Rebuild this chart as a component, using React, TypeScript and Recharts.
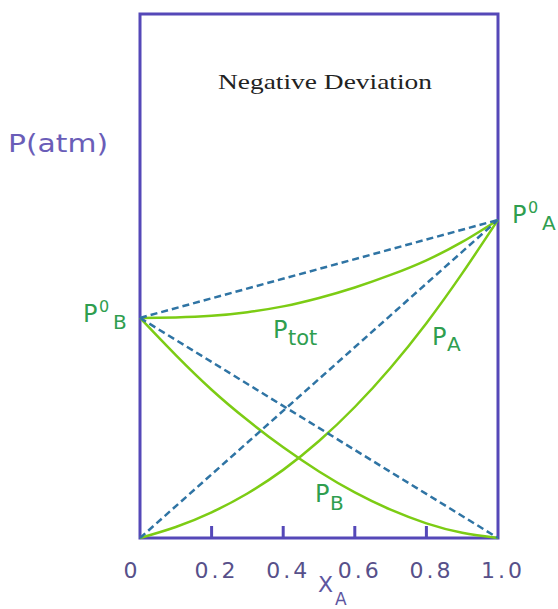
import { LineChart, Line, XAxis, YAxis, ReferenceArea } from "recharts";

// mole fraction of A
const xA = [0, 0.1, 0.2, 0.3, 0.4, 0.5, 0.6, 0.7, 0.8, 0.9, 1.0];
// partial and total vapour pressures (atm), negative deviation
const pA = [0, 0.021, 0.049, 0.085, 0.13, 0.185, 0.25, 0.325, 0.41, 0.505, 0.607];
const pB = [0.42, 0.349, 0.283, 0.225, 0.173, 0.127, 0.087, 0.054, 0.028, 0.01, 0];
const pTot = [0.42, 0.421, 0.424, 0.431, 0.442, 0.458, 0.478, 0.502, 0.53, 0.565, 0.607];

// Raoult's law (ideal) lines, end points only
const idealX = [0, 1];
const idealA = [0, 0.607];
const idealB = [0.42, 0];
const idealTot = [0.42, 0.607];

const xTicks = [0, 0.2, 0.4, 0.6, 0.8, 1.0];

const FRAME = "#5548b8";
const CURVE = "#7ccc14";
const DASH = "#2f74a4";
const LABEL = "#2f9e4f";
const AXIS_TEXT = "#57508a";
const SANS = "'DejaVu Sans', Verdana, sans-serif";

const real = xA.map((x, i) => ({ x, pA: pA[i], pB: pB[i], pTot: pTot[i] }));
const ideal = idealX.map((x, i) => ({ x, a: idealA[i], b: idealB[i], tot: idealTot[i] }));

function XTick(props: any) {
  const { x, y, payload } = props;
  const v: number = payload.value;
  const dx = v === 0 ? -8 : 5;
  return (
    <g>
      {v > 0 && v < 1 && (
        <line x1={x} x2={x} y1={y - 12} y2={y} stroke={FRAME} strokeWidth={3} />
      )}
      <text
        x={x + dx}
        y={y + 40}
        textAnchor="middle"
        fontFamily={SANS}
        fontSize={22}
        letterSpacing={3}
        fill={AXIS_TEXT}
      >
        {v === 0 ? "0" : v.toFixed(1)}
      </text>
    </g>
  );
}

// P with optional superscript / subscript
function Sym({ x, y, sup, sub, subDy = 7, subSize = 20 }: { x: number; y: number; sup?: string; sub: string; subDy?: number; subSize?: number }) {
  return (
    <g fontFamily={SANS} fill={LABEL}>
      <text x={x} y={y} fontSize={24}>P</text>
      {sup && <text x={x + 16} y={y - 10} fontSize={16}>{sup}</text>}
      <text x={x + (sup ? 30 : 15)} y={y + subDy} fontSize={subSize}>{sub}</text>
    </g>
  );
}

export default function App() {
  return (
    <div style={{ position: "absolute", left: 0, top: 0, width: 558, height: 609, background: "#fff" }}>
      <LineChart width={558} height={609} margin={{ top: 14, right: 60, bottom: 0, left: 140 }}>
        <XAxis
          type="number"
          dataKey="x"
          domain={[0, 1]}
          ticks={xTicks}
          axisLine={false}
          tickLine={false}
          tickSize={0}
          tickMargin={0}
          height={71}
          tick={<XTick />}
          allowDuplicatedCategory={false}
        />
        <YAxis type="number" domain={[0, 1]} hide />
        <ReferenceArea x1={0} x2={1} y1={0} y2={1} fill="none" stroke={FRAME} strokeWidth={3} />
        <Line data={real} dataKey="pA" type="natural" stroke={CURVE} strokeWidth={2.5} dot={false} isAnimationActive={false} />
        <Line data={real} dataKey="pB" type="natural" stroke={CURVE} strokeWidth={2.5} dot={false} isAnimationActive={false} />
        <Line data={real} dataKey="pTot" type="natural" stroke={CURVE} strokeWidth={2.5} dot={false} isAnimationActive={false} />
        <Line data={ideal} dataKey="a" type="linear" stroke={DASH} strokeWidth={2.5} strokeDasharray="7 4" dot={false} isAnimationActive={false} />
        <Line data={ideal} dataKey="b" type="linear" stroke={DASH} strokeWidth={2.5} strokeDasharray="7 4" dot={false} isAnimationActive={false} />
        <Line data={ideal} dataKey="tot" type="linear" stroke={DASH} strokeWidth={2.5} strokeDasharray="7 4" dot={false} isAnimationActive={false} />
      </LineChart>
      <svg width={558} height={609} style={{ position: "absolute", left: 0, top: 0, pointerEvents: "none" }}>
        <text x={218} y={89} fontFamily="'Liberation Serif', 'Times New Roman', serif" fontSize={22} fill="#222" textLength={214} lengthAdjust="spacingAndGlyphs">
          Negative Deviation
        </text>
        <text x={8} y={152} fontFamily={SANS} fontSize={24} fill="#6a5db8" textLength={100} lengthAdjust="spacingAndGlyphs">
          P(atm)
        </text>
        <Sym x={83} y={322} sup="0" sub="B" />
        <Sym x={512} y={223} sup="0" sub="A" />
        <Sym x={273} y={338} sub="tot" subSize={21} />
        <Sym x={432} y={345} sub="A" subDy={6} />
        <Sym x={315} y={502} sub="B" subDy={8} />
        <g fontFamily={SANS} fill="#5d56a0">
          <text x={318} y={592} fontSize={22}>X</text>
          <text x={335} y={605} fontSize={17}>A</text>
        </g>
      </svg>
    </div>
  );
}
